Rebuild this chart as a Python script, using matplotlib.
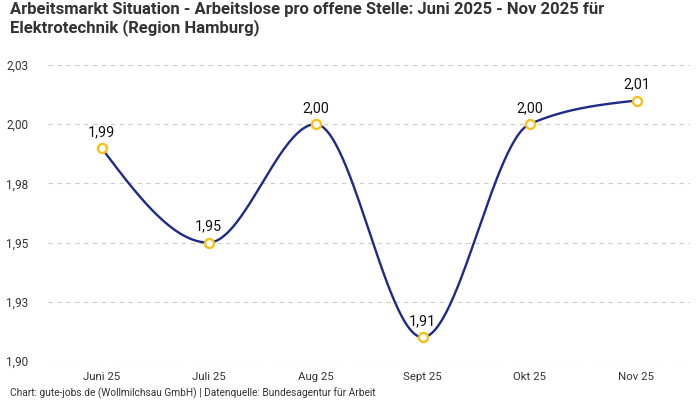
import numpy as np
import matplotlib
matplotlib.use("Agg")
import matplotlib.pyplot as plt
from matplotlib.ticker import FixedLocator

months = ["Juni 25", "Juli 25", "Aug 25", "Sept 25", "Okt 25", "Nov 25"]
values = [1.99, 1.95, 2.00, 1.91, 2.00, 2.01]
ytick_vals = [1.90, 1.925, 1.95, 1.975, 2.00, 2.025]
ytick_labels = ["1,90", "1,93", "1,95", "1,98", "2,00", "2,03"]

title = ("Arbeitsmarkt Situation - Arbeitslose pro offene Stelle: Juni 2025 - Nov 2025 für\n"
         "Elektrotechnik (Region Hamburg)")
footer = "Chart: gute-jobs.de (Wollmilchsau GmbH) | Datenquelle: Bundesagentur für Arbeit"

LINE = "#1c2a8a"
MARK = "#f5c21b"
GRID = "#cccccc"
TXT = "#333333"


def monotone_curve(x, y, n=60):
    # d3 curveMonotoneX style hermite spline
    x = np.asarray(x, float)
    y = np.asarray(y, float)
    h = np.diff(x)
    s = np.diff(y) / h
    t = np.zeros_like(y)
    for i in range(1, len(y) - 1):
        p = (s[i - 1] * h[i] + s[i] * h[i - 1]) / (h[i - 1] + h[i])
        t[i] = (np.sign(s[i - 1]) + np.sign(s[i])) * min(abs(s[i - 1]), abs(s[i]), 0.5 * abs(p))
    t[0] = (3 * s[0] - t[1]) / 2
    t[-1] = (3 * s[-1] - t[-2]) / 2
    xs, ys = [], []
    for i in range(len(y) - 1):
        u = np.linspace(0, 1, n)
        h00 = 2 * u**3 - 3 * u**2 + 1
        h10 = u**3 - 2 * u**2 + u
        h01 = -2 * u**3 + 3 * u**2
        h11 = u**3 - u**2
        xs.append(x[i] + u * h[i])
        ys.append(h00 * y[i] + h10 * h[i] * t[i] + h01 * y[i + 1] + h11 * h[i] * t[i + 1])
    return np.concatenate(xs), np.concatenate(ys)


plt.rcParams['font.family'] = ['Roboto', 'DejaVu Sans']

fig = plt.figure(figsize=(7, 4), dpi=100)
ax = fig.add_axes([48 / 700, 39 / 400, 642 / 700, 296 / 400])

xpos = np.arange(len(months))
cx, cy = monotone_curve(xpos, values)
ax.plot(cx, cy, color=LINE, lw=1.7, zorder=3)
ax.plot(xpos, values, linestyle="none", marker="o", ms=6.5, mfc="white",
        mec=MARK, mew=1.7, zorder=4)

for xi, v in zip(xpos, values):
    ax.annotate(f"{v:.2f}".replace(".", ","), (xi, v), xytext=(0, 6.5),
                textcoords="offset points", ha="center", va="bottom",
                fontsize=10.3, color="#111111")

ax.set_xlim(-0.5, len(months) - 0.5)
ax.set_ylim(1.90, 2.025)
ax.set_xticks(xpos)
ax.set_xticklabels(months, fontsize=8.2, color=TXT)
ax.yaxis.set_major_locator(FixedLocator(ytick_vals))
ax.set_yticklabels(ytick_labels, fontsize=8.5, color=TXT)
ax.tick_params(length=0, pad=8)
ax.tick_params(axis="y", pad=14)
ax.grid(axis="y", color=GRID, linestyle=(0, (4, 4)), lw=0.8)
ax.set_axisbelow(True)
for sp in ax.spines.values():
    sp.set_visible(False)

fig.text(10 / 700, 1 - 2 / 400, title, ha="left", va="top", fontsize=12,
         fontweight="bold", color=TXT, linespacing=1.15)
fig.text(10 / 700, 1 - 393 / 400, footer, ha="left", va="center", fontsize=7.3, color=TXT)

fig.savefig("out.png", dpi=100)
